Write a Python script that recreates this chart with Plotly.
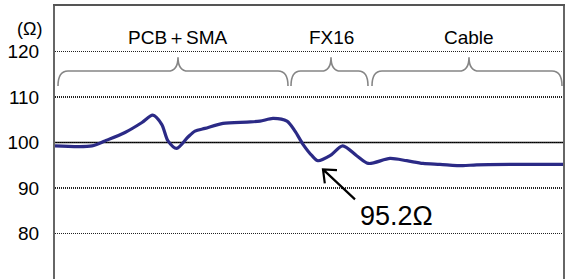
import plotly.graph_objects as go

# ---- data ----
position = [0, 37, 50, 70, 87, 97.7, 106.7, 113, 121.7, 133, 140, 150, 168, 192, 205,
            218, 232, 240, 248, 257, 263, 275, 287.7, 301.7, 313.3, 335, 351.7, 368,
            385, 408, 421.7, 508]
impedance = [99.25, 99.25, 100.35, 102.2, 104.4, 106.0, 104.0, 100.35, 98.7, 101.2,
             102.5, 103.1, 104.2, 104.5, 104.7, 105.3, 104.7, 102.5, 99.6, 97.1, 96.0,
             97.1, 99.25, 97.1, 95.4, 96.5, 96.0, 95.4, 95.2, 94.9, 95.1, 95.2]

y_ticks = [80, 90, 100, 110, 120]
ref_level = 100

section_names = ["PCB＋SMA", "FX16", "Cable"]
section_start = [3, 236, 317]
section_end = [233, 313, 507]
section_tip = [123, 276, 414]

marker_label = "95.2Ω"
marker_x = 268
marker_y = 94.1

# ---- figure ----
FONT = "Liberation Sans, Arial, Helvetica, sans-serif"
fig = go.Figure()
fig.add_trace(go.Scatter(
    x=position, y=impedance, mode="lines",
    line=dict(color="#2b2a86", width=3.2, shape="spline", smoothing=0.8),
    hoverinfo="skip", showlegend=False,
))

shapes = [dict(type="line", xref="paper", x0=0, x1=1, yref="y", y0=ref_level, y1=ref_level,
               line=dict(color="black", width=1.3), layer="below")]

y_low, y_mid, y_top = 112.4, 115.7, 118.75
for s, e, t in zip(section_start, section_end, section_tip):
    r = min(10, (e - s) / 8)
    path = (f"M{s},{y_low} Q{s},{y_mid} {s + r},{y_mid} L{t - r},{y_mid} "
            f"Q{t},{y_mid} {t},{y_top} Q{t},{y_mid} {t + r},{y_mid} "
            f"L{e - r},{y_mid} Q{e},{y_mid} {e},{y_low}")
    shapes.append(dict(type="path", xref="x", yref="y", path=path,
                       line=dict(color="#858585", width=1.6)))

# open "V" arrow pointing at the marked dip (pixel-sized, anchored at the data point)
shapes.append(dict(type="path", xref="x", yref="y", xsizemode="pixel", ysizemode="pixel",
                   xanchor=marker_x, yanchor=marker_y,
                   path="M32,-30 L0,0 M14,-0.8 L0,0 L1.8,-14",
                   line=dict(color="black", width=2.2)))

annotations = []
for name, t in zip(section_names, section_tip):
    annotations.append(dict(x=t, y=123.1, xref="x", yref="y", text=name, showarrow=False,
                            font=dict(size=19, color="black", family=FONT)))

annotations.append(dict(xref="paper", yref="paper", x=-0.022, y=0.915, text="(Ω)",
                        showarrow=False, xanchor="right", yanchor="middle",
                        font=dict(size=18, color="black", family=FONT)))

annotations.append(dict(x=303, y=83.8, xref="x", yref="y", text=marker_label,
                        showarrow=False, xanchor="left", yanchor="middle",
                        font=dict(size=27, color="black", family=FONT)))

fig.update_layout(
    width=567, height=279,
    margin=dict(l=55, r=4, t=6, b=0),
    paper_bgcolor="white", plot_bgcolor="white",
    shapes=shapes, annotations=annotations,
    xaxis=dict(range=[0, 508], showgrid=False, zeroline=False, showticklabels=False,
               ticks="", side="top", showline=True, linecolor="#555555", linewidth=2,
               automargin=False),
    yaxis=dict(range=[70, 130], tickvals=y_ticks, showgrid=True, gridcolor="#222222",
               griddash="1px,1px", gridwidth=1.2, zeroline=False, ticks="",
               showline=True, mirror=True, linecolor="#666666", linewidth=2,
               ticklabelstandoff=10, automargin=False,
               tickfont=dict(size=19, color="black", family=FONT)),
    font=dict(family=FONT),
)

fig.write_html("out.html", config={"displayModeBar": False, "staticPlot": True},
               post_script="document.body.style.margin='0px';document.body.style.overflow='hidden';")
